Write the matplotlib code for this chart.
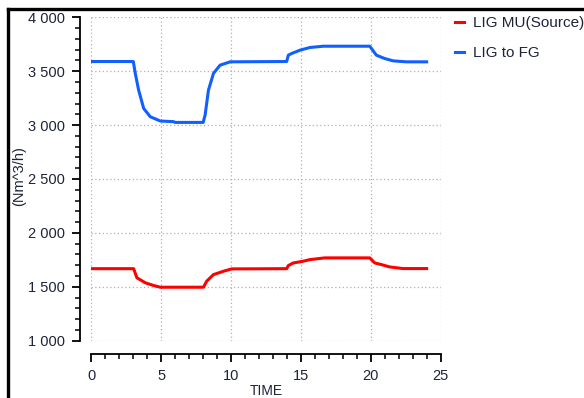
import matplotlib.pyplot as plt
from matplotlib.ticker import MultipleLocator, FuncFormatter
from matplotlib.lines import Line2D

plt.rcParams['font.family'] = ['Liberation Sans', 'DejaVu Sans']

# LIG to FG (blue)
t_fg = [0, 3.0, 3.14, 3.38, 3.74, 4.21, 4.93, 5.88, 6.0, 8.0, 8.14, 8.38, 8.74, 9.21, 9.93,
        13.98, 14.1, 14.33, 14.93, 15.64, 16.6, 19.93, 20.4, 20.99, 21.6, 22.55, 24.0]
v_fg = [3590, 3590, 3480, 3325, 3155, 3078, 3038, 3032, 3025, 3025, 3093, 3325, 3480, 3556, 3587,
        3590, 3649, 3664, 3695, 3720, 3732, 3732, 3649, 3618, 3596, 3587, 3587]

# LIG MU(Source) (red)
t_mu = [0, 3.02, 3.26, 3.86, 4.45, 4.93, 8.02, 8.26, 8.74, 9.45, 10.05,
        13.98, 14.1, 14.45, 15.16, 15.64, 16.71, 19.93, 20.29, 20.76, 21.36, 22.31, 24.0]
v_mu = [1668, 1668, 1583, 1537, 1512, 1496, 1496, 1553, 1613, 1644, 1666,
        1668, 1697, 1721, 1737, 1752, 1768, 1768, 1721, 1706, 1684, 1669, 1669]

series_names = ['LIG MU(Source)', 'LIG to FG']
text_col = '#1e2438'

fig = plt.figure(figsize=(5.84, 3.98), dpi=100)
ax = fig.add_axes([91 / 584, 57 / 398, 350 / 584, 324 / 398])

ax.plot(t_mu, v_mu, color='#ff0000', lw=2.2, label=series_names[0])
ax.plot(t_fg, v_fg, color='#1060ff', lw=2.2, label=series_names[1])

ax.set_xlim(-0.03, 25.03)
ax.set_ylim(997, 4003)

ax.xaxis.set_major_locator(MultipleLocator(5))
ax.xaxis.set_minor_locator(MultipleLocator(1))
ax.yaxis.set_major_locator(MultipleLocator(500))
ax.yaxis.set_minor_locator(MultipleLocator(100))
ax.yaxis.set_major_formatter(FuncFormatter(lambda v, p: f'{v:,.0f}'.replace(',', ' ')))

ax.grid(True, which='major', color='#b0b0b0', linestyle=(0, (1, 2)), linewidth=0.9)

for s in ['top', 'right']:
    ax.spines[s].set_visible(False)
ax.spines['left'].set_position(('outward', 8))
ax.spines['bottom'].set_position(('outward', 9))
ax.spines['left'].set_bounds(1000, 4000)
ax.spines['bottom'].set_bounds(0, 25)
ax.spines['left'].set_linewidth(1.3)
ax.spines['bottom'].set_linewidth(1.3)

ax.tick_params(which='major', length=6, width=1.3, pad=5, labelsize=10.5, labelcolor=text_col)
ax.tick_params(which='minor', length=3.5, width=1.1)

ax.set_xlabel('TIME', fontsize=10, color=text_col, labelpad=1)
ax.set_ylabel('(Nm^3/h)', fontsize=10.5, color=text_col)
ax.yaxis.set_label_coords(-0.185, 0.51)

leg = ax.legend(loc='upper left', bbox_to_anchor=(455 / 584, 1 - 16 / 398),
                bbox_transform=fig.transFigure, frameon=False, fontsize=11,
                handlelength=0.6, handletextpad=0.55, labelspacing=1.05,
                borderaxespad=0, borderpad=0)
for txt in leg.get_texts():
    txt.set_color(text_col)

# black frame along top and left edges
fig.add_artist(Line2D([7.5 / 584, 1], [1 - 9 / 398, 1 - 9 / 398], transform=fig.transFigure,
                      color='black', lw=2.4))
fig.add_artist(Line2D([8 / 584, 8 / 584], [0, 1 - 9 / 398], transform=fig.transFigure,
                      color='black', lw=2.4))

fig.savefig('out.png', dpi=100)
